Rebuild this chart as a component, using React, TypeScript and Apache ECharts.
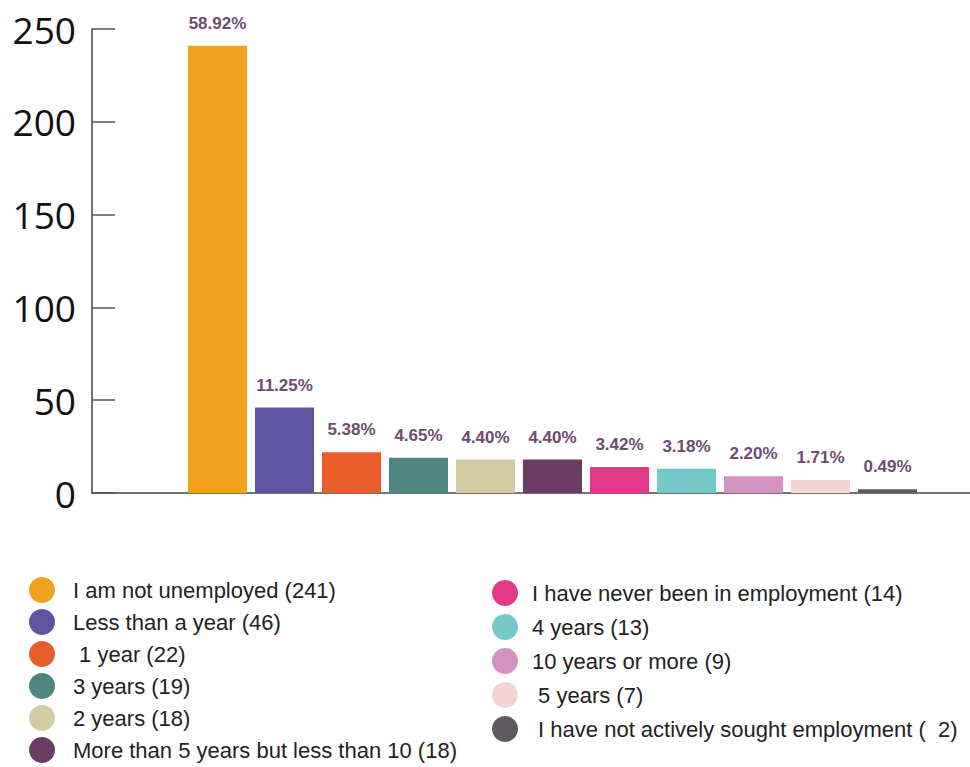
import React, { useEffect, useRef } from "react";
import * as echarts from "echarts";

const categories = [
  "I am not unemployed",
  "Less than a year",
  "1 year",
  "3 years",
  "2 years",
  "More than 5 years but less than 10",
  "I have never been in employment",
  "4 years",
  "10 years or more",
  "5 years",
  "I have not actively sought employment",
];
const counts = [241, 46, 22, 19, 18, 18, 14, 13, 9, 7, 2];
const legendLabels = [
  "I am not unemployed (241)",
  "Less than a year (46)",
  " 1 year (22)",
  "3 years (19)",
  "2 years (18)",
  "More than 5 years but less than 10 (18)",
  "I have never been in employment (14)",
  "4 years (13)",
  "10 years or more (9)",
  " 5 years (7)",
  " I have not actively sought employment (  2)",
];
const colors = [
  "#F2A11F",
  "#5E54A0",
  "#E85E2A",
  "#4E8580",
  "#D4CBA5",
  "#6A3C63",
  "#E3398A",
  "#74C9C8",
  "#D293C1",
  "#F3D4D4",
  "#5F5A5F",
];
const yMin = 0;
const yMax = 250;
const yInterval = 50;

export default function App() {
  const ref = useRef<HTMLDivElement>(null);
  useEffect(() => {
    if (!ref.current) return;
    const chart = echarts.init(ref.current, undefined, { renderer: "svg" });
    const total = counts.reduce((a, b) => a + b, 0);
    const labelOf: Record<string, string> = {};
    categories.forEach((c, i) => (labelOf[c] = legendLabels[i]));

    const series = categories.map((name, i) => ({
      type: "bar",
      name,
      data: [[i, counts[i]]],
      barWidth: 59,
      barGap: "-100%",
      itemStyle: { color: colors[i] },
      labelLine: { show: false },
      label: {
        show: true,
        position: "top",
        distance: 14,
        formatter: () => ((counts[i] / total) * 100).toFixed(2) + "%",
        color: "#6E4B70",
        fontFamily: "Liberation Sans, Arial, sans-serif",
        fontWeight: "bold",
        fontSize: 17,
      },
    }));

    const legendBase = {
      orient: "vertical",
      icon: "circle",
      itemWidth: 26,
      itemHeight: 26,
      padding: 0,
      height: 220,
      selectedMode: false,
      formatter: (n: string) => labelOf[n],
    };

    chart.setOption({
      animation: false,
      grid: { left: 92, right: 0, top: 29, bottom: 274 },
      xAxis: {
        type: "value",
        min: -1.873,
        max: 11.231,
        axisLine: { show: true, onZero: false, lineStyle: { color: "#444", width: 1.5 } },
        axisTick: { show: false },
        axisLabel: { show: false },
        splitLine: { show: false },
      },
      yAxis: {
        type: "value",
        min: yMin,
        max: yMax,
        interval: yInterval,
        axisLine: { show: true, onZero: false, lineStyle: { color: "#444", width: 1.5 } },
        axisTick: { show: true, inside: true, length: 23, lineStyle: { color: "#555", width: 1.5 } },
        axisLabel: {
          margin: 16,
          fontSize: 37,
          color: "#111",
          fontFamily: "Open Sans, sans-serif",
        },
        splitLine: { show: false },
      },
      legend: [
        {
          ...legendBase,
          left: 29,
          top: 577,
          itemGap: 6,
          data: categories.slice(0, 6),
          textStyle: {
            fontSize: 22,
            color: "#222",
            fontFamily: "Liberation Sans, Arial, sans-serif",
            padding: [0, 0, 0, 13],
          },
        },
        {
          ...legendBase,
          left: 492,
          top: 580,
          itemGap: 8,
          data: categories.slice(6),
          textStyle: {
            fontSize: 22,
            color: "#222",
            fontFamily: "Liberation Sans, Arial, sans-serif",
            padding: [0, 0, 0, 9],
          },
        },
      ],
      series,
    });
    return () => chart.dispose();
  }, []);
  return (
    <div
      ref={ref}
      style={{ position: "fixed", left: 0, top: 0, width: 970, height: 767, background: "#fff" }}
    />
  );
}
